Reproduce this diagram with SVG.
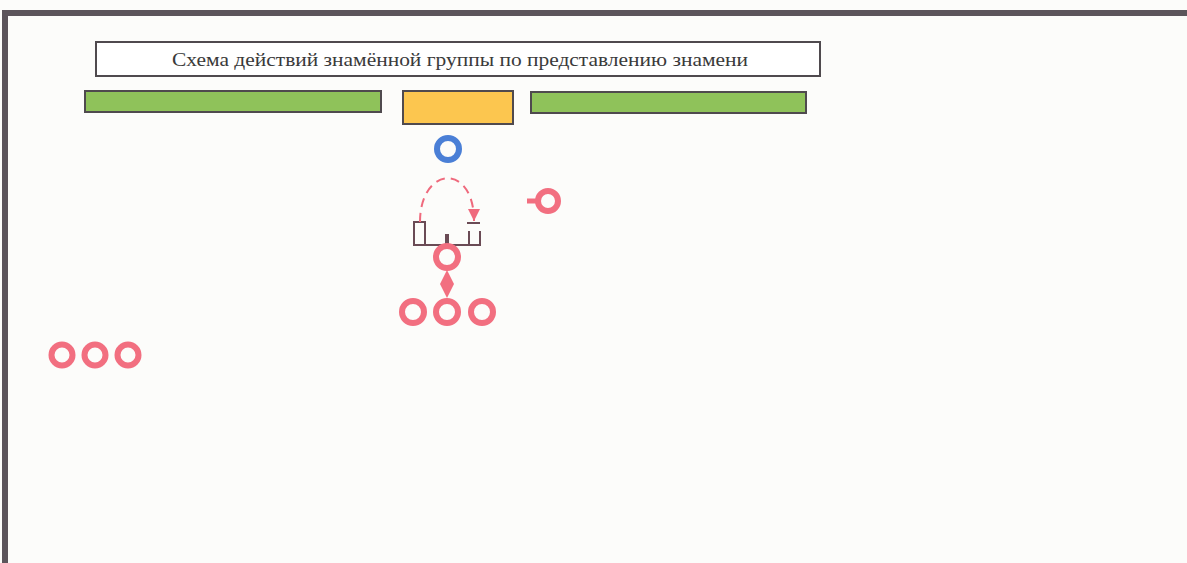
<svg xmlns="http://www.w3.org/2000/svg" width="1187" height="563" viewBox="0 0 1187 563">
<defs>
<style>
.ring{fill:none;stroke:#f26f80;stroke-width:6}
.bar{fill:#8fc25a;stroke:#4f4a4e;stroke-width:2}
.brk{fill:none;stroke:#6a4b55;stroke-width:2}
.ttl{font-family:'Liberation Serif','DejaVu Serif','Times New Roman',serif;font-size:18px;fill:#3a3a3a}
</style>
<marker id="ah" viewBox="0 0 10 10" refX="10" refY="5" markerWidth="13" markerHeight="12" orient="auto" markerUnits="userSpaceOnUse">
<path d="M0,0 L10,5 L0,10 Z" fill="#ef6a7d"/>
</marker>
</defs>
<rect x="0" y="0" width="1187" height="563" fill="#fcfcfa"/>
<path d="M5,563 V13 H1187" fill="none" stroke="#5c555b" stroke-width="6"/>
<g id="title">
<rect x="96" y="42" width="724" height="34" fill="#ffffff" stroke="#4f4a4e" stroke-width="2"/>
<text class="ttl" x="460" y="66" text-anchor="middle" textLength="576" lengthAdjust="spacingAndGlyphs">Схема действий знамённой группы по представлению знамени</text>
</g>
<g id="bar-left"><rect class="bar" x="85" y="91" width="296" height="21"/></g>
<g id="bar-center"><rect x="403" y="91" width="110" height="33" fill="#fcc64f" stroke="#4f4a4e" stroke-width="2"/></g>
<g id="bar-right"><rect class="bar" x="531" y="92" width="275" height="21"/></g>
<g id="flag"><circle cx="448" cy="149" r="11" fill="none" stroke="#4a7fd6" stroke-width="6"/></g>
<g id="bracket">
<rect class="brk" x="414" y="222" width="11" height="23"/>
<path class="brk" d="M425,245 H480 V231 M469,245 V231 M467,223 H480"/>
<line x1="447" y1="245" x2="447" y2="234" stroke="#6a4b55" stroke-width="4"/>
</g>
<g id="lead"><circle class="ring" cx="447" cy="257" r="11"/></g>
<g id="diamond"><path d="M447,270 L454,284 L447,298 L440,284 Z" fill="#f26f80"/></g>
<g id="row1">
<circle class="ring" cx="413" cy="312" r="11"/>
<circle class="ring" cx="447" cy="312" r="11"/>
<circle class="ring" cx="482" cy="312" r="11"/>
</g>
<g id="commander">
<circle class="ring" cx="548" cy="201" r="10"/>
<line x1="527" y1="201" x2="537" y2="201" stroke="#f26f80" stroke-width="5"/>
</g>
<g id="row2">
<circle class="ring" cx="62" cy="355" r="10.5"/>
<circle class="ring" cx="95" cy="355" r="10.5"/>
<circle class="ring" cx="128" cy="355" r="10.5"/>
</g>
<g id="connectors">
<path d="M420,222 C420,166 474,162 474,221" fill="none" stroke="#ef6a7d" stroke-width="2" stroke-dasharray="9,6" marker-end="url(#ah)"/>
</g>
</svg>
